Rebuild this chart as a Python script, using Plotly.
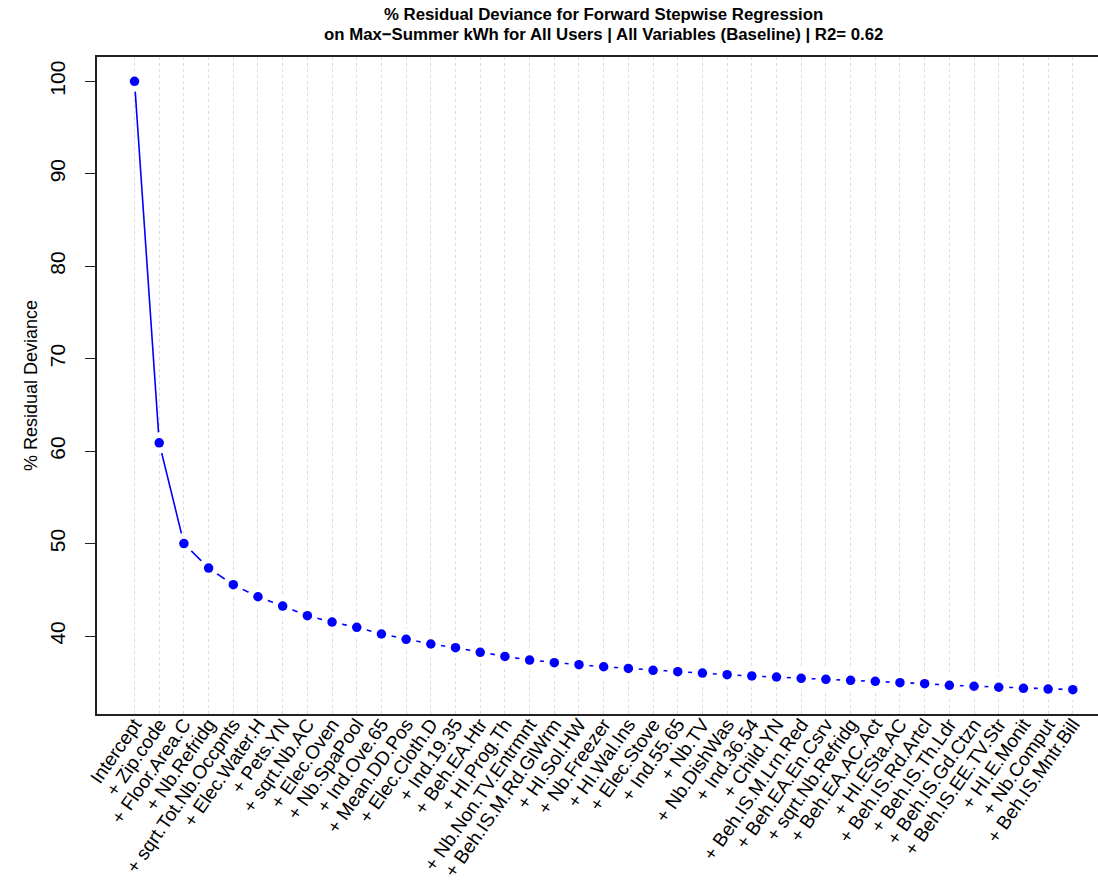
import plotly.graph_objects as go

# Variables added at each forward-selection step
steps = [
    "Intercept", "+ Zip.code", "+ Floor.Area.C", "+ Nb.Refridg",
    "+ sqrt.Tot.Nb.Occpnts", "+ Elec.Water.H", "+ Pets.YN", "+ sqrt.Nb.AC",
    "+ Elec.Oven", "+ Nb.SpaPool", "+ Ind.Ove.65", "+ Mean.DD.Pos",
    "+ Elec.Cloth.D", "+ Ind.19.35", "+ Beh.EA.Htr", "+ HI.Prog.Th",
    "+ Nb.Non.TV.Entrmnt", "+ Beh.IS.M.Rd.GlWrm", "+ HI.Sol.HW",
    "+ Nb.Freezer", "+ HI.Wal.Ins", "+ Elec.Stove", "+ Ind.55.65",
    "+ Nb.TV", "+ Nb.DishWas", "+ Ind.36.54", "+ Child.YN",
    "+ Beh.IS.M.Lrn.Red", "+ Beh.EA.En.Csrv", "+ sqrt.Nb.Refridg",
    "+ Beh.EA.AC.Act", "+ HI.ESta.AC", "+ Beh.IS.Rd.Artcl",
    "+ Beh.IS.Th.Ldr", "+ Beh.IS.Gd.Ctzn", "+ Beh.IS.EE.TV.Str",
    "+ HI.E.Monit", "+ Nb.Comput", "+ Beh.IS.Mntr.Bill",
]

# % residual deviance remaining after each step
resid_dev = [
    100.0, 60.9, 50.0, 47.35, 45.55, 44.25, 43.24, 42.2, 41.51, 40.94,
    40.22, 39.64, 39.14, 38.74, 38.24, 37.8, 37.4, 37.12, 36.9, 36.68,
    36.5, 36.29, 36.14, 36.0, 35.82, 35.68, 35.57, 35.43, 35.32, 35.21,
    35.1, 34.96, 34.85, 34.67, 34.57, 34.46, 34.35, 34.27, 34.2,
]

y_ticks = [40, 50, 60, 70, 80, 90, 100]

title_lines = [
    "% Residual Deviance for Forward Stepwise Regression",
    "on Max\u2212Summer kWh for All Users | All Variables (Baseline) | R2= 0.62",
]

n = len(steps)
xs = list(range(1, n + 1))

# axis limits padded by 4% of the data span on each side
ymin, ymax = min(resid_dev), max(resid_dev)
ypad = 0.04 * (ymax - ymin)
xpad = 0.04 * (n - 1)
x_range = [1 - xpad, n + 1.02]
y_range = [ymin - ypad, ymax + ypad]

FONT = "Liberation Sans, Arial, Helvetica, sans-serif"
BLUE = "#0000ff"

fig = go.Figure()

# connecting line
fig.add_trace(go.Scatter(
    x=xs, y=resid_dev, mode="lines",
    line=dict(color=BLUE, width=1.6),
    hoverinfo="skip", showlegend=False,
))
# white halo so the line stops short of each point
fig.add_trace(go.Scatter(
    x=xs, y=resid_dev, mode="markers",
    marker=dict(color="white", size=21, line=dict(width=0)),
    hoverinfo="skip", showlegend=False,
))
# points
fig.add_trace(go.Scatter(
    x=xs, y=resid_dev, mode="markers",
    marker=dict(color=BLUE, size=9.5, line=dict(width=0)),
    customdata=steps,
    hovertemplate="%{customdata}<br>%{y:.2f}%<extra></extra>",
    showlegend=False,
))

# two-line bold title, centred over the plotting region
plot_h = 884 - 57 - 170
for i, line in enumerate(title_lines):
    fig.add_annotation(
        text=f"<b>{line}</b>", showarrow=False,
        xref="paper", yref="paper",
        x=0.506, y=1 + (42 - 19 * i) / plot_h,
        xanchor="center", yanchor="middle",
        font=dict(family=FONT, size=16.8, color="black"),
    )

fig.update_layout(
    width=1098, height=884,
    margin=dict(l=97, r=0, t=57, b=170, autoexpand=False),
    paper_bgcolor="white", plot_bgcolor="white",
    font=dict(family=FONT, color="black"),
    xaxis=dict(
        range=x_range, tickmode="array", tickvals=xs, ticktext=steps,
        tickangle=-55, tickfont=dict(family=FONT, size=19, color="black"),
        ticks="", showgrid=True, gridcolor="#dcdcdc", griddash="dot",
        gridwidth=1, zeroline=False,
        showline=True, linecolor="#222222", linewidth=1.5, mirror=True,
        ticklabelstandoff=-10,
    ),
    yaxis=dict(
        range=y_range, tickmode="array", tickvals=y_ticks,
        tickangle=-90, tickfont=dict(family=FONT, size=21, color="black"),
        ticks="outside", ticklen=10, tickcolor="#222222", tickwidth=1,
        showgrid=False, zeroline=False,
        showline=True, linecolor="#222222", linewidth=1.5, mirror=False,
        ticklabelstandoff=12,
        title=dict(text="% Residual Deviance",
                   font=dict(family=FONT, size=18, color="black"),
                   standoff=4),
    ),
)

fig.write_html("out.html")
